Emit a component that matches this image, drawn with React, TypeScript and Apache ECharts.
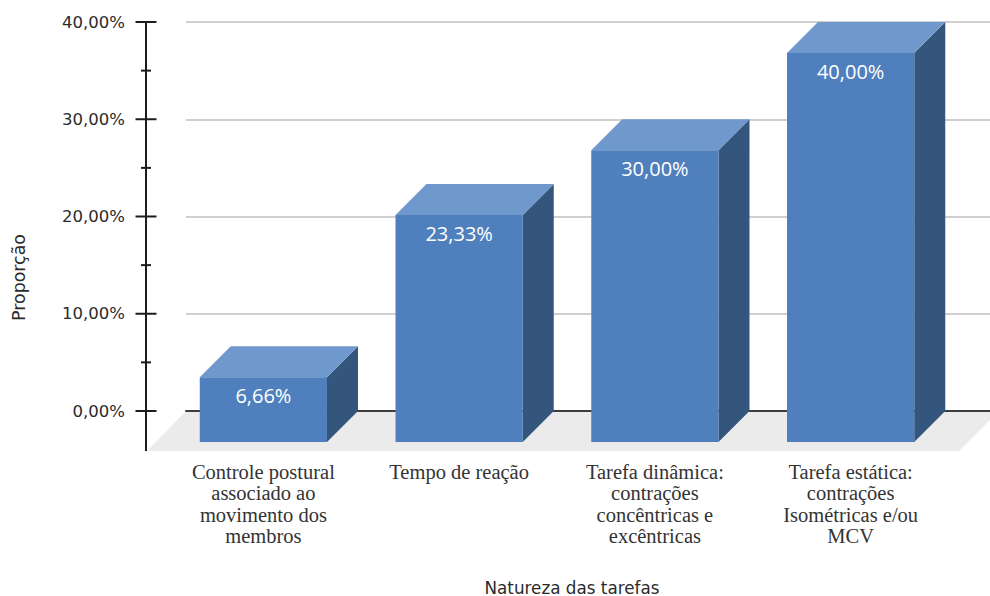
import React, { useEffect, useRef } from "react";
import * as echarts from "echarts";

const categories = [
  "Controle postural\nassociado ao\nmovimento dos\nmembros",
  "Tempo de reação",
  "Tarefa dinâmica:\ncontrações\nconcêntricas e\nexcêntricas",
  "Tarefa estática:\ncontrações\nIsométricas e/ou\nMCV",
];
const proportions = [6.66, 23.33, 30.0, 40.0];
const barLabels = ["6,66%", "23,33%", "30,00%", "40,00%"];
const tickValues = [0, 5, 10, 15, 20, 25, 30, 35, 40];

const AXIS_COLOR = "#1c1c1c";
const TEXT_COLOR = "#2b2b2b";
const SANS = "'DejaVu Sans', sans-serif";
const DEPTH = 31;

export default function App() {
  const ref = useRef<HTMLDivElement>(null);

  useEffect(() => {
    document.body.style.margin = "0";
    const chart = echarts.init(ref.current!, undefined, { renderer: "svg" });
    chart.setOption({
      animation: false,
      backgroundColor: "#ffffff",
      grid: [
        { left: 186, top: 22, width: 804, height: 389, outerBoundsMode: "none" },
        { left: 165.5, top: 22, width: 783, height: 389, outerBoundsMode: "none" },
      ],
      xAxis: [
        {
          type: "value",
          gridIndex: 0,
          min: 0,
          max: 1,
          axisLine: { show: true, onZero: false, lineStyle: { color: "#3c3c3c", width: 2 } },
          axisTick: { show: false },
          axisLabel: { show: false },
          splitLine: { show: false },
          name: "Natureza das tarefas",
          nameLocation: "middle",
          nameGap: 168,
          nameTextStyle: {
            fontFamily: SANS,
            fontSize: 16.8,
            color: TEXT_COLOR,
            padding: [0, 32, 0, 0],
          },
        },
        {
          type: "category",
          gridIndex: 1,
          data: categories,
          axisLine: { show: false },
          axisTick: { show: false },
          axisLabel: {
            margin: 50,
            interval: 0,
            fontFamily: "'Liberation Serif', serif",
            fontSize: 20.5,
            lineHeight: 21.5,
            color: "#333333",
          },
        },
      ],
      yAxis: [
        {
          type: "value",
          gridIndex: 0,
          min: 0,
          max: 40,
          interval: 10,
          offset: 40,
          axisLine: { show: true, onZero: false, lineStyle: { color: AXIS_COLOR, width: 2 } },
          axisTick: { show: false },
          axisLabel: {
            margin: 21,
            fontFamily: SANS,
            fontSize: 16.5,
            color: TEXT_COLOR,
            formatter: (v: number) => v.toFixed(2).replace(".", ",") + "%",
          },
          splitLine: { show: true, lineStyle: { color: "#cfcfcf", width: 2 } },
          name: "Proporção",
          nameLocation: "middle",
          nameGap: 119,
          nameTextStyle: {
            fontFamily: SANS,
            fontSize: 17.4,
            color: TEXT_COLOR,
            padding: [0, 122, 0, 0],
          },
        },
        { type: "value", gridIndex: 1, min: 0, max: 40, interval: 10, show: false },
      ],
      graphic: [
        {
          type: "polygon",
          z: 0,
          shape: {
            points: [
              [186, 411],
              [990, 411],
              [990, 420],
              [959, 451],
              [147, 451],
            ],
          },
          style: { fill: "#ebebeb" },
        },
        {
          type: "line",
          z: 5,
          shape: { x1: 146, y1: 410, x2: 146, y2: 451 },
          style: { stroke: AXIS_COLOR, lineWidth: 2 },
        },
      ],
      series: [
        {
          type: "custom",
          name: "ticks",
          xAxisIndex: 0,
          yAxisIndex: 0,
          silent: true,
          z: 3,
          data: tickValues.map((v) => [0, v]),
          renderItem: (_p: any, api: any) => {
            const value = api.value(1) as number;
            const [x, y] = api.coord([0, value]);
            const half = value % 10 === 0 ? 10.5 : 5;
            return {
              type: "line",
              shape: { x1: x - 40 - half, y1: y, x2: x - 40 + half, y2: y },
              style: { stroke: AXIS_COLOR, lineWidth: 2 },
            };
          },
        },
        {
          type: "custom",
          name: "Proporção",
          xAxisIndex: 1,
          yAxisIndex: 1,
          silent: true,
          z: 4,
          data: proportions.map((v, i) => [i, v]),
          renderItem: (p: any, api: any) => {
            const idx = api.value(0) as number;
            const [cx, backTop] = api.coord([idx, api.value(1)]);
            const [, zero] = api.coord([idx, 0]);
            const w = api.size([1, 0])[0] * 0.65;
            const l = cx - w / 2;
            const r = cx + w / 2;
            const top = backTop + DEPTH;
            const bottom = zero + DEPTH;
            return {
              type: "group",
              children: [
                {
                  type: "polygon",
                  shape: {
                    points: [
                      [r, top],
                      [r + DEPTH, backTop],
                      [r + DEPTH, zero],
                      [r, bottom],
                    ],
                  },
                  style: { fill: "#34567c" },
                },
                {
                  type: "polygon",
                  shape: {
                    points: [
                      [l, top],
                      [l + DEPTH, backTop],
                      [r + DEPTH, backTop],
                      [r, top],
                    ],
                  },
                  style: { fill: "#6f99cc" },
                },
                {
                  type: "rect",
                  shape: { x: l, y: top, width: w, height: bottom - top },
                  style: { fill: "#4f80bd" },
                },
                {
                  type: "text",
                  x: cx,
                  y: top + 18,
                  style: {
                    text: barLabels[p.dataIndex],
                    fill: "#ffffff",
                    font: "500 20px 'Open Sans', sans-serif",
                    align: "center",
                    verticalAlign: "middle",
                  },
                },
              ],
            };
          },
        },
      ],
    });
    return () => chart.dispose();
  }, []);

  return <div ref={ref} style={{ width: 990, height: 596 }} />;
}
